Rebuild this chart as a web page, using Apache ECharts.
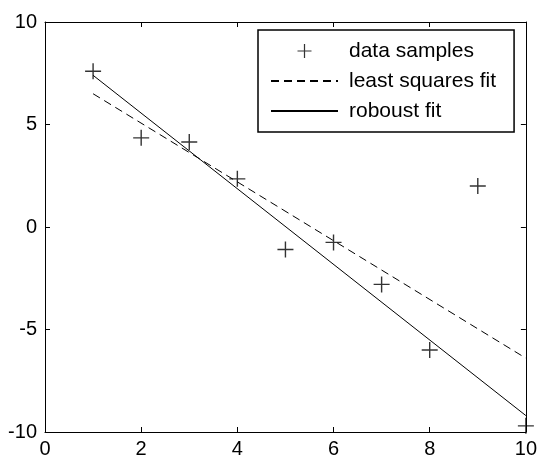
<!DOCTYPE html>
<html>
<head>
<meta charset="utf-8">
<script src="https://cdn.jsdelivr.net/npm/echarts@6/dist/echarts.min.js"></script>
<style>
  html, body { margin: 0; padding: 0; background: #fff; }
  #chart { width: 540px; height: 461px; }
</style>
</head>
<body>
<div id="chart"></div>
<script>
// values
var sampleX = [1, 2, 3, 4, 5, 6, 7, 8, 9, 10];
var sampleY = [7.6, 4.35, 4.15, 2.35, -1.1, -0.75, -2.8, -6.0, 2.0, -9.7];
var fitX = [1, 10];
var lsqY = [6.5, -6.4];
var robustY = [7.4, -9.2];

var FONT = '"Liberation Sans", Arial, sans-serif';
// plus marker as two thin filled bars
var PLUS = 'path://M0,7.3 L16,7.3 L16,8.7 L0,8.7 Z M7.3,0 L8.7,0 L8.7,16 L7.3,16 Z';

function pairs(xs, ys) {
  return xs.map(function (x, i) { return [x, ys[i]]; });
}

function axisBase(extra) {
  var a = {
    type: 'value',
    axisLine: { show: true, onZero: false, lineStyle: { color: '#000', width: 1 } },
    axisTick: { show: true, inside: true, length: 5, lineStyle: { color: '#000', width: 1 } },
    splitLine: { show: false },
    axisLabel: { color: '#000', fontFamily: FONT, fontSize: 20 }
  };
  for (var k in extra) a[k] = extra[k];
  return a;
}

var chart = echarts.init(document.getElementById('chart'), null, { renderer: 'canvas' });
chart.setOption({
  animation: false,
  backgroundColor: '#fff',
  grid: { left: 45, right: 13, top: 22, bottom: 29 },
  xAxis: [
    axisBase({ position: 'bottom', min: 0, max: 10, interval: 2,
      axisLabel: { color: '#000', fontFamily: FONT, fontSize: 20, margin: 7 } }),
    axisBase({ position: 'top', min: 0, max: 10, interval: 2, axisLabel: { show: false } })
  ],
  yAxis: [
    axisBase({ position: 'left', min: -10, max: 10, interval: 5,
      axisLabel: { color: '#000', fontFamily: FONT, fontSize: 20, margin: 8 } }),
    axisBase({ position: 'right', min: -10, max: 10, interval: 5, axisLabel: { show: false } })
  ],
  legend: {
    orient: 'vertical',
    left: 258,
    top: 30,
    padding: [10, 18, 10, 12],
    itemWidth: 67,
    itemHeight: 14,
    itemGap: 8,
    borderColor: '#000',
    borderWidth: 1.5,
    backgroundColor: '#fff',
    textStyle: { color: '#000', fontFamily: FONT, fontSize: 21, lineHeight: 22, padding: [0, 0, 0, 6] },
    data: [
      { name: 'data samples' },
      // hide the symbol ECharts adds to line legend icons
      { name: 'least squares fit', itemStyle: { opacity: 0 } },
      { name: 'roboust fit', itemStyle: { opacity: 0 } }
    ]
  },
  series: [
    {
      name: 'data samples',
      type: 'scatter',
      symbol: PLUS,
      symbolSize: 16,
      itemStyle: { color: '#000' },
      data: pairs(sampleX, sampleY),
      z: 3
    },
    {
      name: 'least squares fit',
      type: 'line',
      symbol: 'none',
      lineStyle: { color: '#000', width: 1, type: [8, 5] },
      itemStyle: { color: '#000' },
      data: pairs(fitX, lsqY)
    },
    {
      name: 'roboust fit',
      type: 'line',
      symbol: 'none',
      lineStyle: { color: '#000', width: 1 },
      itemStyle: { color: '#000' },
      data: pairs(fitX, robustY)
    }
  ]
});
</script>
</body>
</html>
